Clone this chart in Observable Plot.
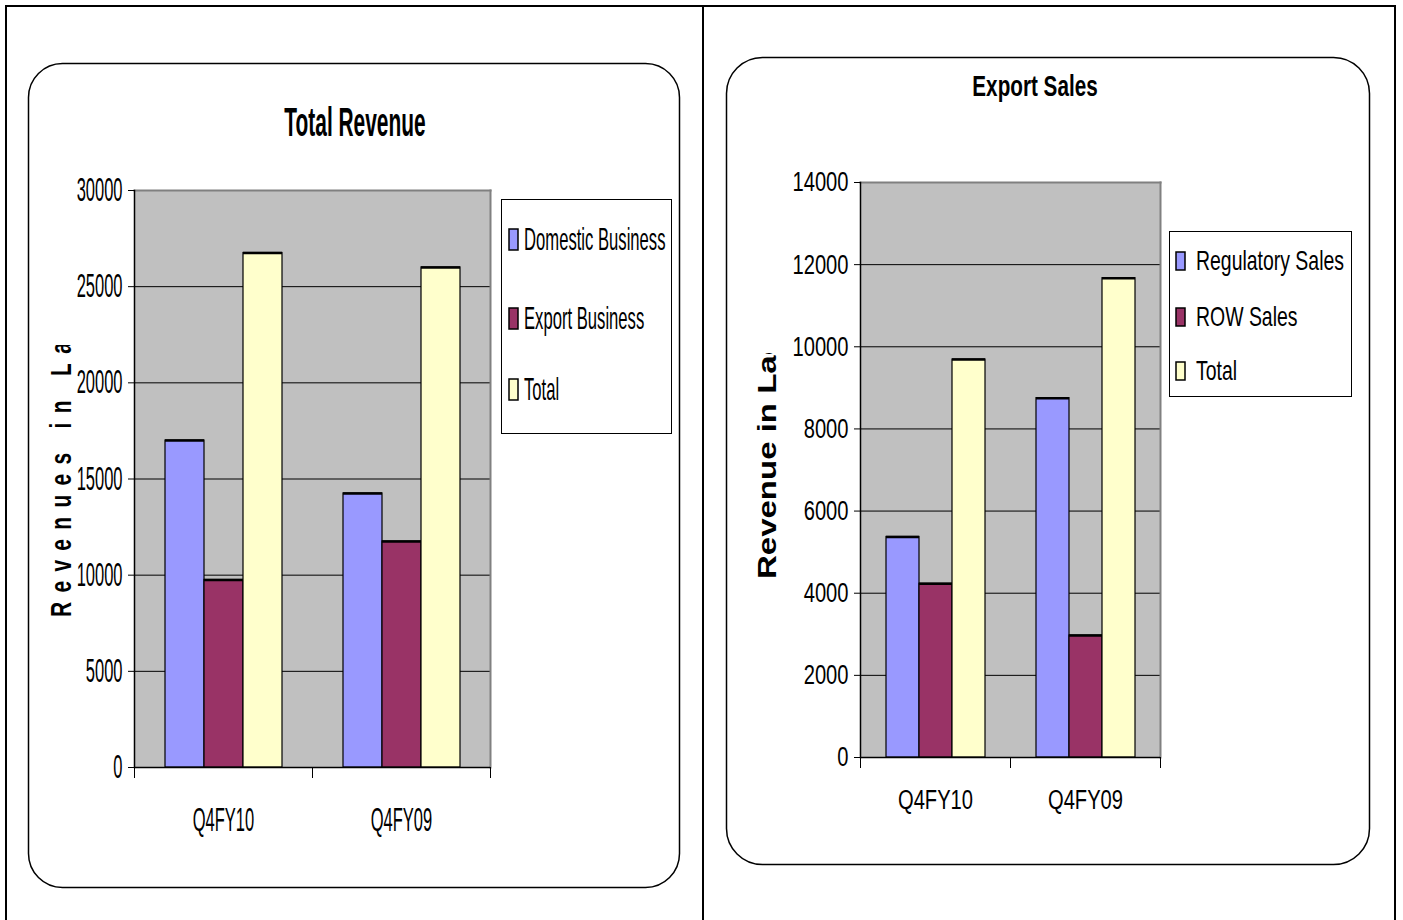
<!DOCTYPE html>
<html><head><meta charset="utf-8">
<script src="https://cdn.jsdelivr.net/npm/d3@7"></script>
<script src="https://cdn.jsdelivr.net/npm/@observablehq/plot@0.6"></script>
<style>
html,body{margin:0;padding:0;background:#fff;width:1403px;height:920px;overflow:hidden;font-family:"Liberation Sans",Arial,sans-serif;}
#deco{position:absolute;left:0;top:0;}
.chart{position:absolute;top:0;}
</style></head><body>
<svg id="deco" width="1403" height="920"></svg>
<div id="left" class="chart" style="left:0px"></div>
<div id="right" class="chart" style="left:700px"></div>
<script>
// ---------- data ----------
const categories = ["Q4FY10", "Q4FY09"];
const seriesColors = ["#9999FF", "#993366", "#FFFFCC"];

const revenueTitle = "Total Revenue";
const revenueAxisTitle = "Revenues in Lacs";
const revenueSeries = ["Domestic Business", "Export Business", "Total"];
const domesticBusiness = [17000, 14250];
const exportBusiness = [9750, 11750];
const totalRevenue = [26750, 26000];
const revenueTicks = [0, 5000, 10000, 15000, 20000, 25000, 30000];

const exportTitle = "Export Sales";
const exportAxisTitle = "Revenue in Lacs";
const exportSeries = ["Regulatory Sales", "ROW Sales", "Total"];
const regulatorySales = [5370, 8750];
const rowSales = [4230, 2970];
const totalExport = [9690, 11670];
const exportTicks = [0, 2000, 4000, 6000, 8000, 10000, 12000, 14000];

// ---------- charts ----------
function drawChart(el, cfg) {
  const data = [];
  cfg.categories.forEach((c, ci) => cfg.series.forEach((s, si) =>
    data.push({category: c, series: s, value: cfg.values[si][ci]})));
  const plotH = cfg.height - cfg.marginTop - cfg.marginBottom;
  const svg = Plot.plot({
    width: cfg.width, height: cfg.height,
    marginLeft: cfg.marginLeft, marginRight: cfg.marginRight,
    marginTop: cfg.marginTop, marginBottom: cfg.marginBottom,
    style: {background: "transparent", fontFamily: '"Liberation Sans", Arial, sans-serif',
            fontSize: cfg.fontSize + "px", color: "#000", overflow: "visible"},
    fx: {domain: cfg.categories, padding: 0, label: null},
    x: {domain: cfg.series, paddingInner: 0, paddingOuter: 0.73, axis: null},
    y: {domain: [0, cfg.ticks[cfg.ticks.length - 1]], label: null},
    color: {domain: cfg.series, range: seriesColors},
    marks: [
      Plot.frame({facet: "super", fill: "#c0c0c0"}),
      Plot.gridY(cfg.ticks, {stroke: "#000", strokeOpacity: 1, strokeWidth: 1}),
      Plot.frame({facet: "super", anchor: "top", stroke: "#808080", strokeWidth: 2}),
      Plot.frame({facet: "super", anchor: "right", stroke: "#808080", strokeWidth: 2}),
      Plot.barY(data, {fx: "category", x: "series", y: "value", fill: "series", stroke: "#000", strokeWidth: 1.2}),
      Plot.tickY(data, {fx: "category", x: "series", y: "value", stroke: "#000", strokeWidth: 2.5}),
      Plot.ruleY([0], {stroke: "#000", strokeWidth: 1.5}),
      Plot.frame({facet: "super", anchor: "left", stroke: "#000", strokeWidth: 1.5}),
      Plot.frame({anchor: "left", stroke: "#000", strokeWidth: 1, insetTop: plotH, insetBottom: -10}),
      Plot.frame({anchor: "right", stroke: "#000", strokeWidth: 1, insetTop: plotH, insetBottom: -10}),
      Plot.axisY({ticks: cfg.ticks, tickSize: 6, tickPadding: 6, tickFormat: "d", label: null}),
      Plot.axisFx({anchor: "bottom", tickSize: 0, tickPadding: cfg.fxPad, label: null})
    ]
  });
  svg.querySelectorAll("text").forEach(t => {
    const x = +t.getAttribute("x") || 0;
    const tr = t.getAttribute("transform") || "";
    t.setAttribute("transform", `${tr} translate(${x},0) scale(${cfg.squish},1) translate(${-x},0)`);
  });
  el.appendChild(svg);
}

drawChart(document.getElementById("left"), {
  categories, series: revenueSeries, values: [domesticBusiness, exportBusiness, totalRevenue],
  ticks: revenueTicks, width: 500, height: 860, marginLeft: 133, marginRight: 10,
  marginTop: 190, marginBottom: 93, fontSize: 33, squish: 0.5, fxPad: 40
});
drawChart(document.getElementById("right"), {
  categories, series: exportSeries, values: [regulatorySales, rowSales, totalExport],
  ticks: exportTicks, width: 470, height: 850, marginLeft: 159, marginRight: 10,
  marginTop: 182, marginBottom: 93, fontSize: 28, squish: 0.72, fxPad: 32
});

// ---------- decorations: frames, titles, legends, axis titles ----------
const deco = d3.select("#deco").attr("font-family", '"Liberation Sans", Arial, sans-serif');
deco.append("rect").attr("x", 6).attr("y", 6).attr("width", 1389).attr("height", 1000)
  .attr("fill", "none").attr("stroke", "#000").attr("stroke-width", 2);
deco.append("line").attr("x1", 703).attr("x2", 703).attr("y1", 6).attr("y2", 920)
  .attr("stroke", "#000").attr("stroke-width", 2);
deco.append("rect").attr("x", 28.5).attr("y", 63.5).attr("width", 651).attr("height", 824)
  .attr("rx", 34).attr("fill", "none").attr("stroke", "#000").attr("stroke-width", 1.5);
deco.append("rect").attr("x", 726.5).attr("y", 57.5).attr("width", 643).attr("height", 807)
  .attr("rx", 36).attr("fill", "none").attr("stroke", "#000").attr("stroke-width", 1.5);

function sText(text, x, y, size, weight, s, anchor) {
  deco.append("text").attr("transform", `translate(${x},${y}) scale(${s},1)`)
    .attr("text-anchor", anchor).attr("font-size", size).attr("font-weight", weight)
    .attr("fill", "#000").text(text);
}
sText(revenueTitle, 355, 136, 41, "bold", 0.51, "middle");
sText(exportTitle, 1035, 96, 30, "bold", 0.69, "middle");

function legend(box, series, baselines, sw, textX, size, s) {
  deco.append("rect").attr("x", box[0]).attr("y", box[1]).attr("width", box[2]).attr("height", box[3])
    .attr("fill", "#fff").attr("stroke", "#000").attr("stroke-width", 1);
  series.forEach((name, i) => {
    deco.append("rect").attr("x", sw[0]).attr("y", baselines[i] - sw[2]).attr("width", sw[1]).attr("height", sw[2])
      .attr("fill", seriesColors[i]).attr("stroke", "#000").attr("stroke-width", 1.5);
    sText(name, textX, baselines[i], size, "normal", s, "start");
  });
}
legend([501.5, 199.5, 170, 234], revenueSeries, [250, 329, 400], [509, 9, 21], 524, 32, 0.52);
legend([1169.5, 231.5, 182, 165], exportSeries, [270, 326, 380], [1176, 9, 18], 1196, 27, 0.72);

const defs = deco.append("defs");
defs.append("clipPath").attr("id", "clipL").append("rect").attr("x", 30).attr("y", 345).attr("width", 60).attr("height", 290);
defs.append("clipPath").attr("id", "clipR").append("rect").attr("x", 735).attr("y", 353).attr("width", 60).attr("height", 240);
deco.append("g").attr("clip-path", "url(#clipL)").append("text")
  .attr("transform", "translate(71,617) rotate(-90) scale(0.72,1)")
  .attr("font-size", 29).attr("font-weight", "bold").attr("letter-spacing", 13).attr("fill", "#000")
  .text(revenueAxisTitle);
deco.append("g").attr("clip-path", "url(#clipR)").append("text")
  .attr("transform", "translate(776,579) rotate(-90) scale(1,0.8)")
  .attr("font-size", 33).attr("font-weight", "bold").attr("fill", "#000")
  .text(exportAxisTitle);
</script></body></html>
